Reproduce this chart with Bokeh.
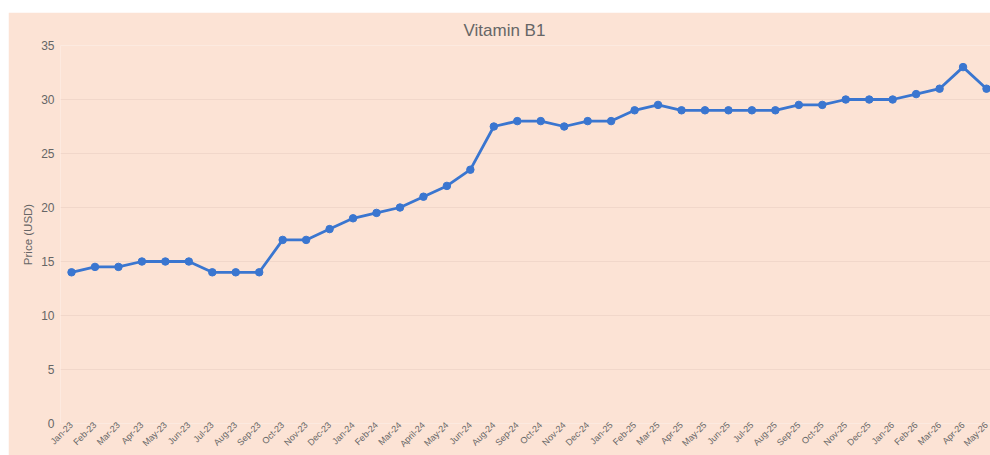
import math
from bokeh.plotting import figure
from bokeh.models import Range1d, FixedTicker, Spacer, ColumnDataSource
from bokeh.layouts import column, row
from bokeh.embed import file_html
from bokeh.resources import INLINE

months = ["Jan-23", "Feb-23", "Mar-23", "Apr-23", "May-23", "Jun-23", "Jul-23", "Aug-23",
          "Sep-23", "Oct-23", "Nov-23", "Dec-23", "Jan-24", "Feb-24", "Mar-24", "April-24",
          "May-24", "Jun-24", "Aug-24", "Sep-24", "Oct-24", "Nov-24", "Dec-24", "Jan-25",
          "Feb-25", "Mar-25", "Apr-25", "May-25", "Jun-25", "Jul-25", "Aug-25", "Sep-25",
          "Oct-25", "Nov-25", "Dec-25", "Jan-26", "Feb-26", "Mar-26", "Apr-26", "May-26"]
prices = [14, 14.5, 14.5, 15, 15, 15, 14, 14,
          14, 17, 17, 18, 19, 19.5, 20, 21,
          22, 23.5, 27.5, 28, 28, 27.5, 28, 28,
          29, 29.5, 29, 29, 29, 29, 29, 29.5,
          29.5, 30, 30, 30, 30.5, 31, 33, 31]
y_ticks = [0, 5, 10, 15, 20, 25, 30, 35]

BG = "#FCE3D5"
TXT = "#666666"
LINE = "#3A76D0"
GRID = "#F1D7CA"

idx = list(range(len(months)))
src = ColumnDataSource(dict(x=idx, y=prices, label=months))

p = figure(width=982, height=443, output_backend="svg", toolbar_location=None,
           x_range=Range1d(-0.47, len(months) - 1 + 0.17), y_range=Range1d(0, 35),
           min_border_left=52, min_border_right=0, min_border_top=32, min_border_bottom=32)
p.background_fill_color = BG
p.border_fill_color = BG
p.outline_line_color = None

p.title.text = "Vitamin B1"
p.title.align = "left"
p.title.offset = 403
p.title.text_font = "Liberation Sans"
p.title.text_font_size = "17px"
p.title.text_font_style = "normal"
p.title.text_color = TXT
p.title.standoff = 12

p.line("x", "y", source=src, line_color=LINE, line_width=2.8)
p.scatter("x", "y", source=src, size=7.5, fill_color=LINE, line_color=LINE)

xa = p.xaxis[0]
xa.ticker = FixedTicker(ticks=idx, minor_ticks=[i - 0.5 for i in range(len(months) + 1)])
xa.major_label_overrides = {i: m for i, m in enumerate(months)}
xa.major_label_orientation = math.pi / 4
xa.major_label_text_font = "Liberation Sans"
xa.major_label_text_font_size = "9px"
xa.major_label_text_color = TXT
xa.major_label_standoff = 0
xa.major_tick_out = 0
xa.major_tick_in = 0
xa.minor_tick_out = 0
xa.minor_tick_in = 0
xa.axis_line_color = None

ya = p.yaxis[0]
ya.ticker = FixedTicker(ticks=y_ticks)
ya.axis_label = "Price (USD)"
ya.axis_label_text_font = "Liberation Sans"
ya.axis_label_text_font_size = "11.5px"
ya.axis_label_text_font_style = "normal"
ya.axis_label_text_color = TXT
ya.axis_label_standoff = 4
ya.major_label_text_font = "Liberation Sans"
ya.major_label_text_font_size = "12px"
ya.major_label_text_color = TXT
ya.major_label_standoff = 6
ya.major_tick_out = 0
ya.major_tick_in = 0
ya.minor_tick_out = 0
ya.minor_tick_in = 0
ya.axis_line_color = None

p.xgrid.grid_line_color = None
p.ygrid.grid_line_color = GRID
p.ygrid.grid_line_width = 1

layout = column(Spacer(height=12, width=990), row(Spacer(width=8, height=443), p))

open("out.html", "w").write(file_html(layout, INLINE))
